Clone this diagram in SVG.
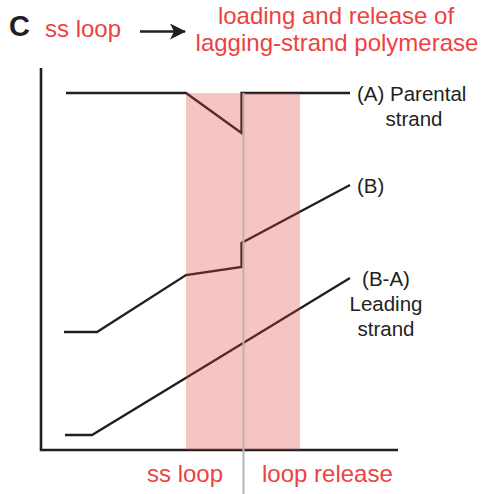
<svg xmlns="http://www.w3.org/2000/svg" width="485" height="494" viewBox="0 0 485 494">
<style>
.red{font-family:"Liberation Sans",Arial,sans-serif;font-size:24px;fill:#ec4242}
.lab{font-family:"Liberation Sans",Arial,sans-serif;font-size:20.5px;fill:#231f20}
.data{fill:none;stroke:#231f20;stroke-width:2.3;stroke-linejoin:miter}
.axis{fill:none;stroke:#231f20;stroke-width:2.6}
</style>
<defs>
<marker id="ah" markerWidth="16" markerHeight="16" refX="15" refY="8" orient="auto" markerUnits="userSpaceOnUse">
<path d="M0,0 L16,8 L0,16 L4,8 Z" fill="#231f20"/>
</marker>
</defs>
<rect width="485" height="494" fill="#ffffff"/>
<g id="header">
<text x="9" y="36" font-family="Liberation Sans,Arial,sans-serif" font-size="29" font-weight="bold" fill="#231f20">C</text>
<text class="red" x="45" y="37">ss loop</text>
<line x1="140" y1="31.5" x2="185" y2="31.5" stroke="#231f20" stroke-width="2.5" marker-end="url(#ah)"/>
<text class="red" x="336" y="24" text-anchor="middle">loading and release of</text>
<text class="red" x="337" y="51" text-anchor="middle">lagging-strand polymerase</text>
</g>
<g id="axes">
<path class="axis" d="M41,68 V450 H398"/>
</g>
<g id="connectors">
<path id="lineA" class="data" d="M66,93 H186 L241.5,133 V93 H350"/>
<path id="lineB" class="data" d="M64,332 H97 L186,275 L241.5,267 V243 L350,185"/>
<path id="lineBA" class="data" d="M65,435 H92 L350,278"/>
</g>
<rect id="window" x="186" y="93" width="114" height="357" fill="#e13a37" fill-opacity="0.3"/>
<line id="divider" x1="243.5" y1="93" x2="243.5" y2="494" stroke="#b3b3b3" stroke-width="2"/>
<g id="labels">
<text class="lab" x="357" y="101">(A) Parental</text>
<text class="lab" x="414" y="126" text-anchor="middle">strand</text>
<text class="lab" x="357" y="193">(B)</text>
<text class="lab" x="386" y="286" text-anchor="middle">(B-A)</text>
<text class="lab" x="386" y="311" text-anchor="middle">Leading</text>
<text class="lab" x="386" y="336" text-anchor="middle">strand</text>
</g>
<g id="footer">
<text class="red" x="147" y="482">ss loop</text>
<text class="red" x="262" y="482">loop release</text>
</g>
</svg>
